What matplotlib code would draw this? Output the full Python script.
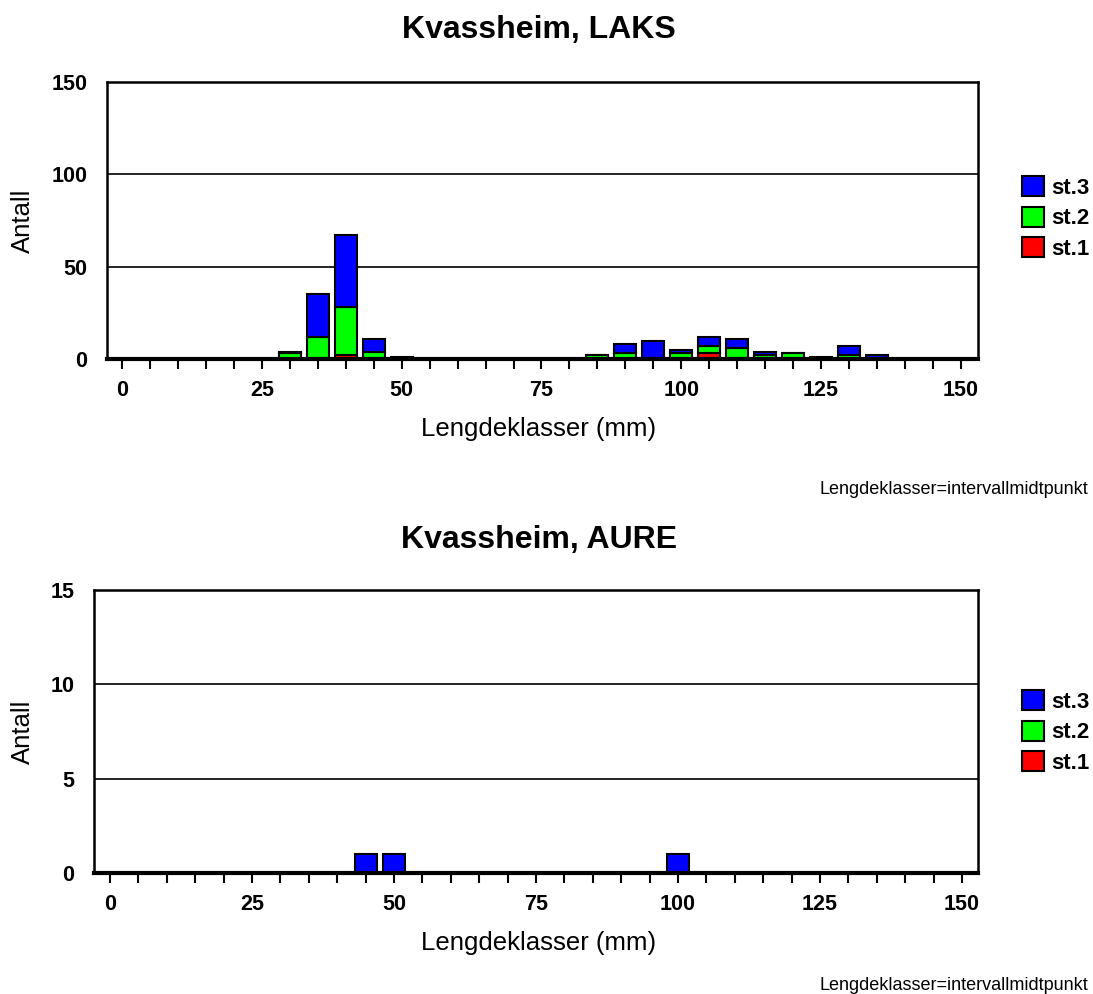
import numpy as np
import matplotlib.pyplot as plt
from matplotlib.patches import Patch

plt.rcParams['font.family'] = ['Liberation Sans', 'DejaVu Sans']

# length classes (mm, interval midpoints)
classes = list(range(0, 155, 5))

# Kvassheim, LAKS
laks_st1 = [0, 0, 0, 0, 0, 0, 0, 0, 2, 0, 0, 0, 0, 0, 0, 0,
            0, 0, 0, 0, 0, 3, 0, 0, 0, 0, 0, 0, 0, 0, 0]
laks_st2 = [0, 0, 0, 0, 0, 0, 3, 12, 26, 4, 0, 0, 0, 0, 0, 0,
            0, 2, 3, 0, 3, 4, 6, 2, 3, 0, 2, 0, 0, 0, 0]
laks_st3 = [0, 0, 0, 0, 0, 0, 1, 23, 39, 7, 1, 0, 0, 0, 0, 0,
            0, 0, 5, 10, 2, 5, 5, 2, 0, 1, 5, 2, 0, 0, 0]

# Kvassheim, AURE
aure_st1 = [0] * 31
aure_st2 = [0] * 31
aure_st3 = [0, 0, 0, 0, 0, 0, 0, 0, 0, 1, 1, 0, 0, 0, 0, 0,
            0, 0, 0, 0, 1, 0, 0, 0, 0, 0, 0, 0, 0, 0, 0]

colors = {'st.1': '#ff0000', 'st.2': '#00ff00', 'st.3': '#0000ff'}

W, H = 1093, 994
fig = plt.figure(figsize=(W / 100, H / 100), dpi=100)


def draw(rect, title, s1, s2, s3, ymax, yticks, xlim, title_y, xlabel_y, note_y, leg_y, ylab_x):
    ax = fig.add_axes(rect)
    x = np.array(classes)
    s1, s2, s3 = np.array(s1), np.array(s2), np.array(s3)
    kw = dict(width=3.9, edgecolor='black', linewidth=1.5, zorder=3)
    ax.bar(x, s1, color=colors['st.1'], **kw)
    ax.bar(x, s2, bottom=s1, color=colors['st.2'], **kw)
    ax.bar(x, s3, bottom=s1 + s2, color=colors['st.3'], **kw)

    ax.set_xlim(*xlim)
    ax.set_ylim(0, ymax)
    ax.set_yticks(yticks)
    ax.set_xticks(range(0, 151, 25))
    ax.set_xticks(range(0, 151, 5), minor=True)
    for t in yticks[1:-1]:
        ax.axhline(t, color='black', linewidth=1.2, zorder=1)

    ax.tick_params(axis='y', length=0, pad=14, labelsize=15.5)
    ax.tick_params(axis='x', which='both', direction='out', length=7, width=1.5, pad=8, labelsize=15.5)
    for lab in ax.get_xticklabels() + ax.get_yticklabels():
        lab.set_fontweight('bold')
    for side in ['left', 'right', 'top']:
        ax.spines[side].set_linewidth(1.8)
    ax.spines['bottom'].set_linewidth(3)
    ax.spines['bottom'].set_zorder(5)

    fig.text(ylab_x, rect[1] + rect[3] / 2, 'Antall', rotation=90,
             ha='center', va='center', fontsize=18.5)
    fig.text(0.493, title_y, title, ha='center', va='center', fontsize=23, fontweight='bold')
    fig.text(0.493, xlabel_y, 'Lengdeklasser (mm)', ha='center', va='center', fontsize=18.5)
    fig.text(0.996, note_y, 'Lengdeklasser=intervallmidtpunkt', ha='right', va='center', fontsize=13)

    handles = [Patch(facecolor=colors[k], edgecolor='black', linewidth=1.5, label=k)
               for k in ['st.3', 'st.2', 'st.1']]
    fig.legend(handles=handles, loc='center left', bbox_to_anchor=(0.9205, leg_y),
               frameon=False, handlelength=1.0, handleheight=1.0, handletextpad=0.35,
               labelspacing=0.35, borderpad=0.2,
               prop={'size': 16, 'weight': 'bold'})
    return ax


draw([107 / W, 1 - 359 / H, (978 - 107) / W, (359 - 82) / H], 'Kvassheim, LAKS',
     laks_st1, laks_st2, laks_st3, 150, [0, 50, 100, 150], (-2.68, 153.05),
     1 - 30 / H, 1 - 429 / H, 1 - 490 / H, 1 - 218 / H, 23 / W)
draw([94 / W, 1 - 873 / H, (978 - 94) / W, (873 - 590) / H], 'Kvassheim, AURE',
     aure_st1, aure_st2, aure_st3, 15, [0, 5, 10, 15], (-2.82, 152.8),
     1 - 540 / H, 1 - 943 / H, 1 - 985 / H, 1 - 732 / H, 23 / W)

fig.savefig('out.png', dpi=100)
